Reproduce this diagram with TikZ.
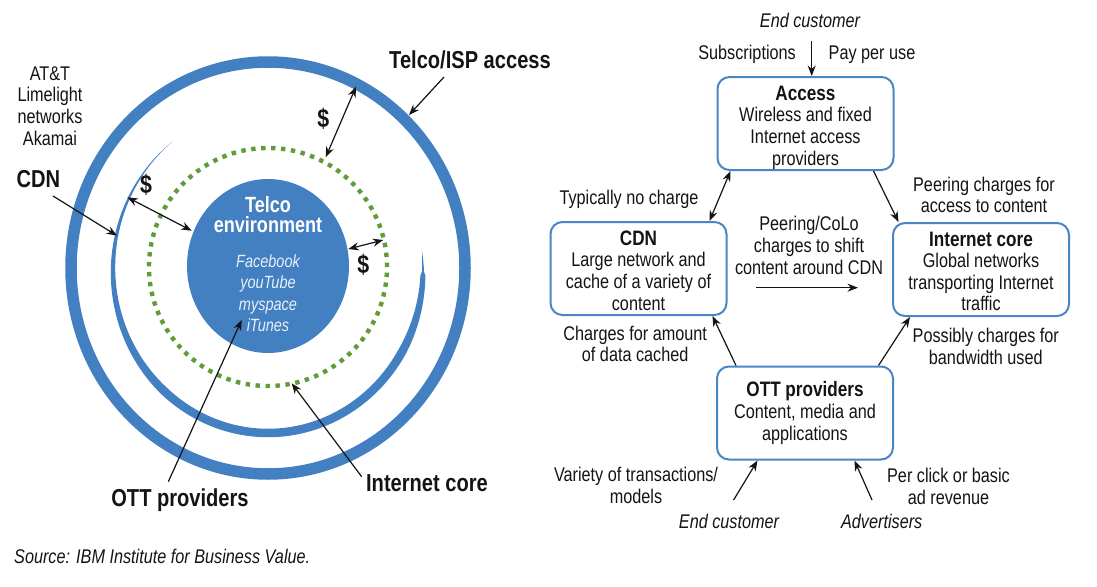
\documentclass[tikz,border=0pt]{standalone}
\usepackage{fontspec}
\setmainfont{Liberation Sans}[FakeStretch=0.82]
\usetikzlibrary{arrows.meta,shapes.geometric}
\definecolor{ringblue}{RGB}{67,128,194}
\definecolor{boxblue}{RGB}{74,134,198}
\definecolor{dotgreen}{RGB}{96,156,58}
\definecolor{txt}{RGB}{20,20,20}
\definecolor{lighttxt}{RGB}{232,239,248}
\pgfmathdeclarefunction{thk}{1}{%
  \pgfmathparse{(#1<228)*8.5*(#1-128)/100 + (1-(#1<228))*(#1<330)*8.5 + (1-(#1<330))*(#1<358)*(8.5-3.5*(#1-330)/28) + (1-(#1<358))*2.4*(367-#1)/9}%
}
\tikzset{
  lbl/.style={inner sep=0pt, align=center, text=txt, font=\fontsize{19.8}{21.6}\selectfont},
  ital/.style={inner sep=0pt, align=center, text=txt, font=\itshape\fontsize{19.8}{21.6}\selectfont},
  biglbl/.style={inner sep=0pt, text=txt, font=\bfseries\fontsize{24.5}{27}\selectfont},
  dollar/.style={inner sep=0pt, text=txt, font=\bfseries\fontsize{26}{28}\selectfont},
  boxnode/.style={draw=boxblue, line width=2pt, rounded corners=12pt, minimum width=176pt,
    minimum height=93pt, inner sep=0pt},
  boxtext/.style={align=center, inner sep=0pt, text=txt, font=\fontsize{19.8}{21.6}\selectfont},
  arr/.style={-{Stealth[length=10.5pt,width=8pt]}, line width=1.2pt, draw=txt},
  darr/.style={{Stealth[length=10.5pt,width=8pt]}-{Stealth[length=10.5pt,width=8pt]}, line width=1.2pt, draw=txt},
}
\newcommand{\hd}[1]{{\bfseries\fontsize{20.9}{21.6}\selectfont #1}}
\begin{document}
\begin{tikzpicture}[x=1pt,y=-1pt]
\useasboundingbox (0,0) rectangle (1097,586);
\fill[white] (0,0) rectangle (1097,586);

% ---------------- left diagram ----------------
\draw[ringblue, line width=11.5pt] (268,268) ellipse [x radius=197pt, y radius=206pt];
\fill[ringblue] plot[domain=128:367, samples=160, variable=\t]
    ({268+(155+0.5*thk(\t))*cos(\t)},{270-(163+0.5*thk(\t))*sin(\t)})
  -- plot[domain=367:128, samples=160, variable=\t]
    ({268+(155-0.5*thk(\t))*cos(\t)},{270-(163-0.5*thk(\t))*sin(\t)}) -- cycle;
\draw[dotgreen, line width=4.4pt, dash pattern=on 4.4pt off 5.57pt] (268,267) circle [radius=119pt];
\node[ellipse, fill=ringblue, minimum width=162pt, minimum height=174pt, inner sep=0pt] (telco) at (268,266) {};
\node[inner sep=0pt, align=center, text=white, font=\bfseries\fontsize{22}{20}\selectfont] (telcot) at (268,215) {Telco\\environment};
\node[inner sep=0pt, align=center, text=lighttxt, font=\itshape\fontsize{17.7}{21.5}\selectfont] (apps) at (268,293) {Facebook\\youTube\\myspace\\iTunes};

\node[lbl] (cdnlist) at (50,106) {AT\&T\\Limelight\\networks\\Akamai};
\node[biglbl] (cdnl) at (38.5,179) {CDN};
\node[biglbl] (tisp) at (470,60) {Telco/ISP access};
\node[biglbl] (ottl) at (180,500) {OTT providers};
\node[biglbl] (icl) at (427,483) {Internet core};
\node[dollar] (d1) at (323.3,119) {\$};
\node[dollar] (d2) at (146,185) {\$};
\node[dollar] (d3) at (363.3,265) {\$};

\coordinate (tispS) at (444,77);   \coordinate (tispE) at (409,115);
\coordinate (cdnS) at (53,196);    \coordinate (cdnE) at (117,235.7);
\coordinate (ottS) at (168.3,481.7); \coordinate (ottE) at (241.7,320);
\coordinate (icS) at (361.7,476.7); \coordinate (icE) at (291.7,383.3);
\coordinate (t1a) at (356,86.7);   \coordinate (t1b) at (325.7,157.3);
\coordinate (t2a) at (127.3,197.3); \coordinate (t2b) at (191.7,230.7);
\coordinate (t3a) at (348.3,249);  \coordinate (t3b) at (383.3,240);

\draw[arr] (tispS) -- (tispE);
\draw[arr] (cdnS) -- (cdnE);
\draw[arr] (ottS) -- (ottE);
\draw[arr] (icS) -- (icE);
\draw[darr] (t1a) -- (t1b);
\draw[darr] (t2a) -- (t2b);
\draw[darr] (t3a) -- (t3b);

\node[ital, anchor=west] (src) at (14,556) {Source: IBM Institute for Business Value.};

% ---------------- right diagram ----------------
\node[boxnode] (access) at (805.5,123.5) {};
\node[boxnode] (cdn) at (638.5,268.5) {};
\node[boxnode] (icore) at (981,269.5) {};
\node[boxnode] (ott) at (805,413) {};
\node[boxtext] (accesst) at ([yshift=-4pt]access.center) {\hd{Access}\\Wireless and fixed\\Internet access\\providers};
\node[boxtext] (cdnt) at ([yshift=-2pt]cdn.center) {\hd{CDN}\\Large network and\\cache of a variety of\\content};
\node[boxtext] (icoret) at ([yshift=-2pt]icore.center) {\hd{Internet core}\\Global networks\\transporting Internet\\traffic};
\node[boxtext] (ottt) at (ott.center) {\hd{OTT providers}\\Content, media and\\applications};

\node[ital] (ec1) at (810,20.7) {End customer};
\node[lbl, anchor=east] (subs) at (796,54.5) {Subscriptions};
\node[lbl, anchor=west] (ppu) at (828.5,54.5) {Pay per use};
\node[lbl] (tnc) at (629,199) {Typically no charge};
\node[lbl] (pcf) at (984,195) {Peering charges for\\access to content};
\node[lbl] (peer) at (809,245.5) {Peering/CoLo\\charges to shift\\content around CDN};
\node[lbl] (cfa) at (635.2,344) {Charges for amount\\of data cached};
\node[lbl] (pcb) at (985.8,346.3) {Possibly charges for\\bandwidth used};
\node[lbl] (vot) at (636,485.5) {Variety of transactions/\\models};
\node[lbl] (pcl) at (948.5,486.7) {Per click or basic\\ad revenue};
\node[ital] (ec2) at (729,521.7) {End customer};
\node[ital] (adv) at (881.7,521.7) {Advertisers};

\coordinate (ecS) at (811.7,40.7);
\coordinate (pS) at (756,287.7); \coordinate (pE) at (858,287.7);
\coordinate (ec2S) at (733.6,500);
\coordinate (advS) at (872,500);

\draw[arr] (ecS) -- (ecS |- access.north);
\draw[darr] ([xshift=14pt]access.south west) -- ([xshift=-18pt]cdn.north east);
\draw[arr] ([xshift=-21pt]access.south east) -- ([xshift=6.5pt]icore.north west);
\draw[arr] (pS) -- (pE);
\draw[arr] ([xshift=20pt]ott.north west) -- ([xshift=-15pt]cdn.south east);
\draw[arr] ([xshift=-15.5pt]ott.north east) -- ([xshift=18pt]icore.south west);
\draw[arr] (ec2S) -- ([xshift=41.5pt]ott.south west);
\draw[arr] (advS) -- ([xshift=-39.5pt]ott.south east);
\end{tikzpicture}
\end{document}
